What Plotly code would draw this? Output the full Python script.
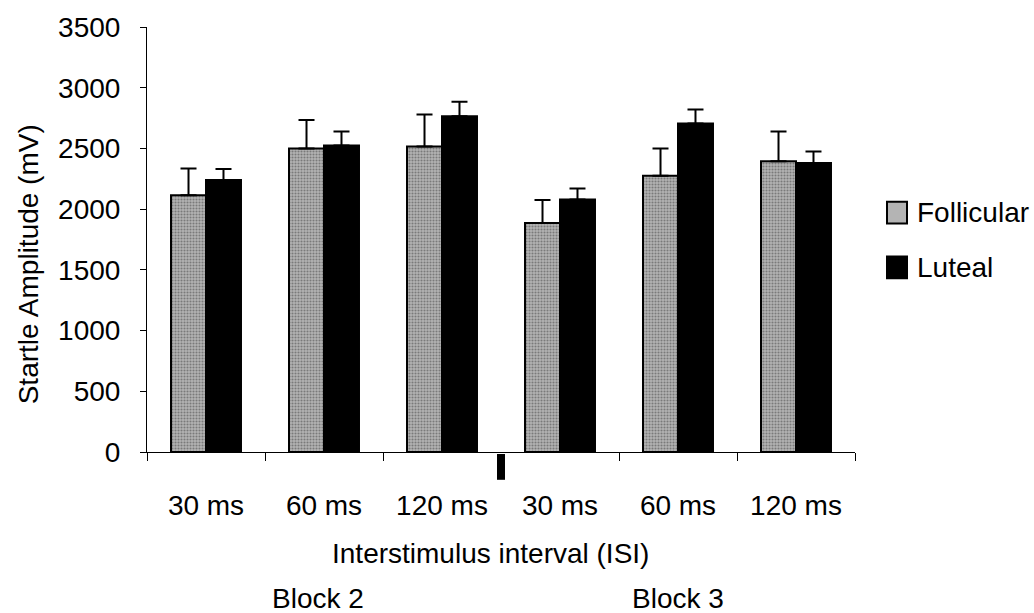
import plotly.graph_objects as go

# ---- data ----
isi_labels = ["30 ms", "60 ms", "120 ms", "30 ms", "60 ms", "120 ms"]
positions = [0, 1, 2, 3, 4, 5]
follicular = [2115, 2500, 2515, 1885, 2275, 2395]
follicular_err = [220, 235, 265, 190, 225, 245]
luteal = [2240, 2525, 2765, 2080, 2705, 2380]
luteal_err = [90, 115, 120, 90, 115, 95]
series_names = ["Follicular", "Luteal"]
block_labels = ["Block 2", "Block 3"]

FONT = "Liberation Sans, Arial, sans-serif"
FS = 28

fig = go.Figure()
fig.add_trace(go.Bar(
    x=positions, y=follicular, name=series_names[0],
    marker=dict(color="#a8a8a8", line=dict(color="black", width=2),
                pattern=dict(shape=".", fgcolor="#7a7a7a", bgcolor="#b4b4b4",
                             size=3, solidity=0.4, fillmode="replace")),
    error_y=dict(type="data", symmetric=False, array=follicular_err,
                 arrayminus=[0] * 6, color="black", thickness=2, width=8),
    showlegend=False,
))
fig.add_trace(go.Bar(
    x=positions, y=luteal, name=series_names[1],
    marker=dict(color="black", line=dict(color="black", width=2)),
    error_y=dict(type="data", symmetric=False, array=luteal_err,
                 arrayminus=[0] * 6, color="black", thickness=2, width=8),
    showlegend=False,
))

L, R, T, B = 147, 1034 - 855, 24, 613 - 452
PW, PH = 855 - 147, 452 - 24

def px(xp):
    return (xp - L) / PW

def py(yp):
    return (452 - yp) / PH

fig.update_layout(
    width=1034, height=613,
    margin=dict(l=L, r=R, t=T, b=B, pad=0),
    paper_bgcolor="white", plot_bgcolor="white",
    font=dict(family=FONT, size=FS, color="black"),
    barmode="group", bargap=0.407, bargroupgap=0,
    xaxis=dict(
        range=[-0.5, 5.5], tickvals=positions, ticktext=isi_labels,
        showline=True, linecolor="black", linewidth=1,
        ticks="", showgrid=False, zeroline=False,
        ticklabelstandoff=28,
        tickfont=dict(family=FONT, size=FS, color="black"),
        minor=dict(tickvals=[-0.5, 0.5, 1.5, 3.5, 4.5, 5.5], ticks="outside",
                   ticklen=8, tickwidth=1, tickcolor="black", showgrid=False),
    ),
    yaxis=dict(
        range=[0, 3500], dtick=500, tick0=0,
        showline=True, linecolor="black", linewidth=1,
        ticks="outside", ticklen=6, tickwidth=1, tickcolor="black",
        showgrid=False, zeroline=False,
        ticklabelstandoff=14,
        tickfont=dict(family=FONT, size=FS, color="black"),
    ),
)

# thick marker under axis between the blocks
fig.add_shape(type="rect", xref="x", yref="paper",
              x0=2.5 - 0.034, x1=2.5 + 0.034, y0=py(454), y1=py(480),
              fillcolor="black", line=dict(width=0))

ann = []
ann.append(dict(text="Startle Amplitude (mV)", x=px(28), y=py(263), xref="paper", yref="paper",
                textangle=-90, showarrow=False, xanchor="center", yanchor="middle"))
ann.append(dict(text="Interstimulus interval (ISI)", x=px(490), y=py(554), xref="paper", yref="paper",
                showarrow=False, xanchor="center", yanchor="middle"))
ann.append(dict(text=block_labels[0], x=px(318), y=py(600), xref="paper", yref="paper",
                showarrow=False, xanchor="center", yanchor="middle"))
ann.append(dict(text=block_labels[1], x=px(678), y=py(600), xref="paper", yref="paper",
                showarrow=False, xanchor="center", yanchor="middle"))

# legend (manual for matching swatch size)
leg_y = [211, 266]
leg_fill = ["#b4b4b4", "black"]
for name, yc, fc in zip(series_names, leg_y, leg_fill):
    fig.add_shape(type="rect", xref="paper", yref="paper",
                  x0=px(887), x1=px(907), y0=py(yc + 11), y1=py(yc - 11),
                  fillcolor=fc, line=dict(color="black", width=2))
    ann.append(dict(text=name, x=px(915), y=py(yc), xref="paper", yref="paper",
                    showarrow=False, xanchor="left", yanchor="middle"))

fig.update_layout(annotations=ann)
fig.write_html("out.html")
